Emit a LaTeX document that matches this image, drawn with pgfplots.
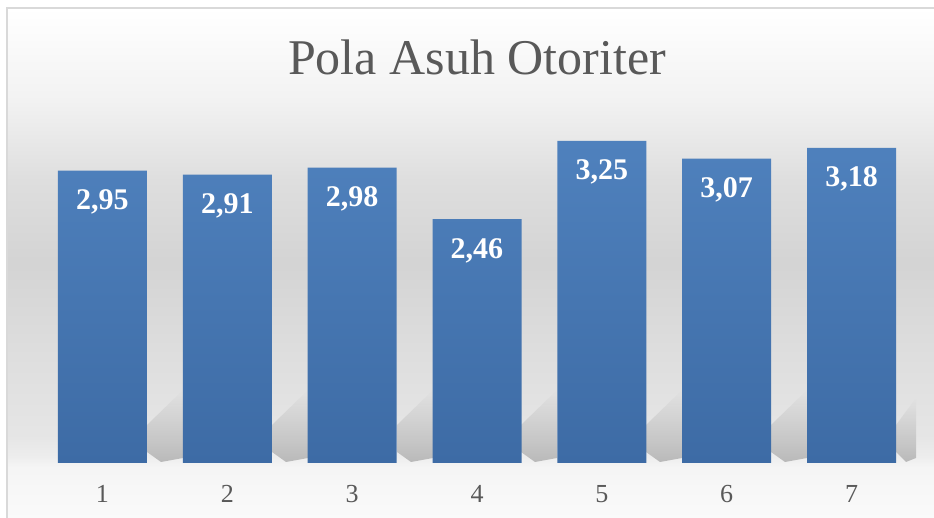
\documentclass[border=0pt]{standalone}
\usepackage{fontspec}
\setmainfont{Liberation Serif}
\usepackage{pgfplots}
\pgfplotsset{compat=1.18}
\usetikzlibrary{fadings}

\definecolor{bartop}{RGB}{79,129,189}
\definecolor{barbot}{RGB}{61,107,165}
\definecolor{txtgray}{RGB}{89,89,89}
\definecolor{framegray}{RGB}{217,217,217}
\definecolor{shadowgray}{RGB}{185,185,185}

% background: 25bp = bottom of frame, 75bp = top of frame
\pgfdeclareverticalshading{chartbg}{100bp}{%
  color(0bp)=(black!2); color(25bp)=(black!2); color(30bp)=(black!4);
  color(31bp)=(black!7); color(33bp)=(black!10); color(41bp)=(black!13);
  color(50bp)=(black!17); color(58bp)=(black!13); color(66bp)=(black!5);
  color(75bp)=(white); color(100bp)=(white)}

\begin{document}
\begin{tikzpicture}
% decoration drawn in pixel units of the reference (origin top left)
\begin{scope}[x=0.5pt, y=-0.5pt, shift={(0,259pt)}]
  \path[use as bounding box] (0,0) rectangle (934,518);
  \shade[shading=chartbg] (7,8) rectangle (934,518);
  \draw[framegray, line width=1pt] (7,518) -- (7,8) -- (934,8);
  % soft shadows behind the bars
  \foreach \xr in {147,272,397,521,646,771} {
    \fill[shadowgray, path fading=north]
      (\xr,425) -- (\xr+36,390) -- (\xr+36,458) -- (\xr+14,462) -- (\xr,452) -- cycle;
  }
  \fill[shadowgray, path fading=north]
    (896,425) -- (916,398) -- (916,458) -- (906,462) -- (896,452) -- cycle;
\end{scope}

\node[anchor=base, text=txtgray, font=\fontsize{25}{25}\selectfont]
  at (238.5pt,221.5pt) {Pola Asuh Otoriter};

\begin{axis}[
    at={(20pt,27.5pt)}, anchor=south west,
    scale only axis,
    width=437pt, height=168.5pt,
    xmin=-0.5, xmax=6.5,
    ymin=0, ymax=3.4,
    axis line style={draw=none},
    tick style={draw=none},
    ytick=\empty,
    xtick=data,
    xticklabels={1,2,3,4,5,6,7},
    xticklabel style={anchor=base, yshift=-15.5pt, text=txtgray,
        font=\fontsize{13}{13}\selectfont},
    ybar, bar width=44.5pt,
    nodes near coords,
    nodes near coords style={/pgf/number format/use comma,
        /pgf/number format/fixed, /pgf/number format/fixed zerofill,
        /pgf/number format/precision=2,
        /pgf/number format/assume math mode=true},
    every node near coord/.append style={anchor=base, yshift=-19.5pt,
        text=white, font=\bfseries\fontsize{15}{15}\selectfont},
  ]
  \addplot[draw=none, top color=bartop, bottom color=barbot] coordinates {
    (0,2.95) (1,2.91) (2,2.98) (3,2.46) (4,3.25) (5,3.07) (6,3.18)
  };
\end{axis}
\end{tikzpicture}
\end{document}
